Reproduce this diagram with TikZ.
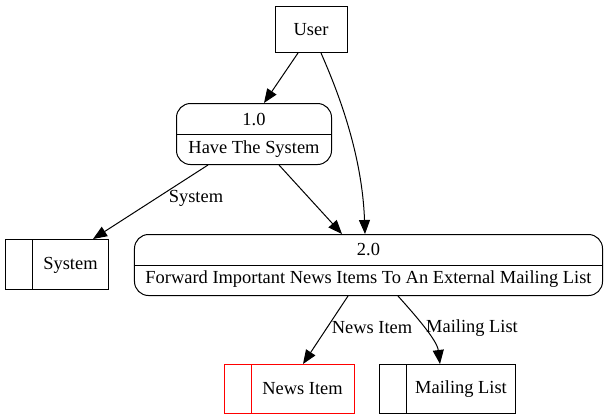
\documentclass[tikz,border=0pt]{standalone}
\usepackage{fontspec}
\setmainfont{Liberation Serif}
\usetikzlibrary{arrows.meta}
\begin{document}
\begin{tikzpicture}[x=1bp,y=-1bp,line width=1bp,
  every node/.style={font=\fontsize{18.5}{22}\selectfont},
  ext/.style={draw,rectangle,inner sep=0pt},
  proc/.style={draw,rectangle,rounded corners=14bp,inner sep=0pt},
  store/.style={draw,rectangle,inner sep=0pt},
  txt/.style={inner sep=0pt},
  flow/.style={-{Triangle[length=14bp,width=11bp]}}]
\useasboundingbox (0,0) rectangle (607,419);
% external entity
\node[ext,minimum width=72bp,minimum height=46bp] (user) at (311,29.5) {User};
% processes
\node[proc,minimum width=155bp,minimum height=61bp] (p1) at (254,134) {};
\draw (p1.west) -- (p1.east);
\node[txt] (p1a) at (254,119) {1.0};
\node[txt] (p1b) at (254,149) {Have The System};
\node[proc,minimum width=468bp,minimum height=61bp] (p2) at (368.5,265) {};
\draw (p2.west) -- (p2.east);
\node[txt] (p2a) at (368.5,249.5) {2.0};
\node[txt] (p2b) at (368.5,279.5) {Forward Important News Items To An External Mailing List};
% data stores
\node[store,minimum width=103bp,minimum height=50bp] (s1) at (57,264.5) {};
\draw ([xshift=27bp]s1.north west) -- ([xshift=27bp]s1.south west);
\node[txt] (s1t) at (70.5,265) {System};
\node[store,draw=red,minimum width=130bp,minimum height=49bp] (n1) at (289.5,389) {};
\draw[red] ([xshift=27bp]n1.north west) -- ([xshift=27bp]n1.south west);
\node[txt] (n1t) at (302.5,389) {News Item};
\node[store,minimum width=136bp,minimum height=49bp] (m1) at (447.5,389) {};
\draw ([xshift=27bp]m1.north west) -- ([xshift=27bp]m1.south west);
\node[txt] (m1t) at (461,389) {Mailing List};
% flows
\draw[flow] ([xshift=-13bp]user.south) -- ([xshift=10bp]p1.north);
\draw[flow] ([xshift=10bp]user.south) .. controls (335,85) and (362,150) .. ([xshift=-3.5bp]p2.north);
\draw[flow] ([xshift=-46bp]p1.south) -- ([xshift=36bp]s1.north);
\draw[flow] ([xshift=25bp]p1.south) -- ([xshift=-26.5bp]p2.north);
\draw[flow] ([xshift=-20.5bp]p2.south) -- ([xshift=13.5bp]n1.north);
\draw[flow] ([xshift=29.5bp]p2.south) .. controls (415,315) and (437,340) .. ([xshift=-7.5bp]m1.north);
% flow labels
\node[txt] (l1) at (196,198) {System};
\node[txt] (l2) at (372,328) {News Item};
\node[txt] (l3) at (472,328) {Mailing List};
\end{tikzpicture}
\end{document}
